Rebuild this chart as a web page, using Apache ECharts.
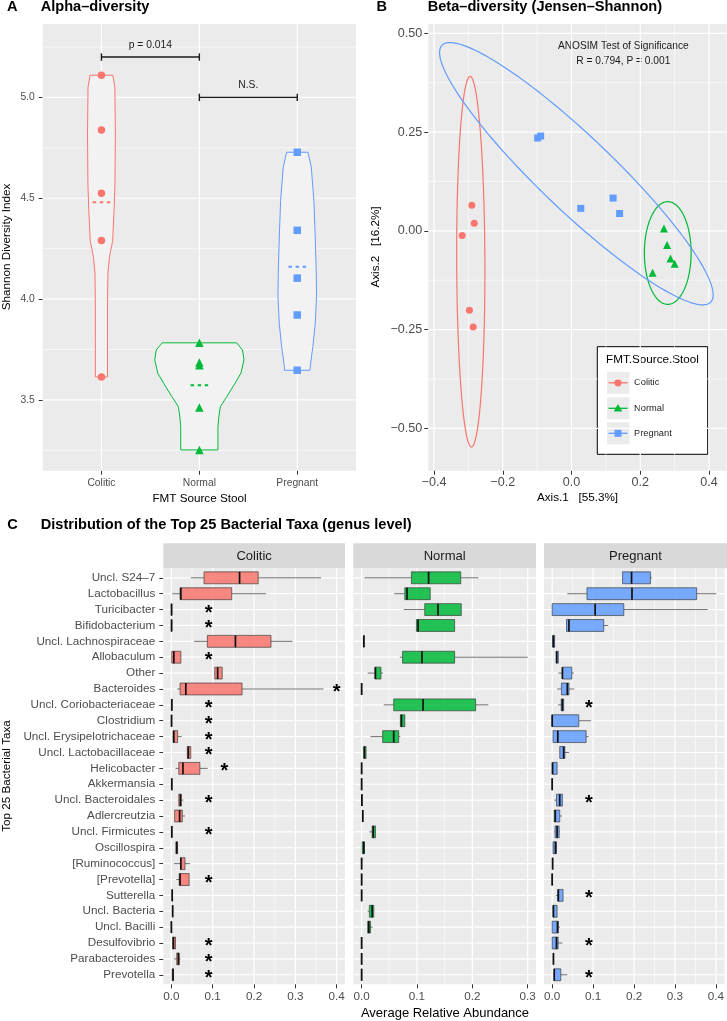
<!DOCTYPE html>
<html><head><meta charset="utf-8">
<script src="https://cdn.jsdelivr.net/npm/echarts@6/dist/echarts.min.js"></script>
<style>html,body{margin:0;padding:0;background:#fff}#c{width:727px;height:1021px}</style>
</head><body><div id="c"></div>
<script>
const FONT = '"Liberation Sans", Arial, Helvetica, sans-serif';
const groups = ['Colitic', 'Normal', 'Pregnant'];
const groupColors = ['#F8766D', '#00BA38', '#619CFF'];
const boxFills = ['rgba(248,118,109,0.85)', 'rgba(0,186,56,0.85)', 'rgba(97,156,255,0.85)'];

// ---------- Panel A: alpha diversity ----------
const alphaColitic = [5.11, 4.839, 4.525, 4.29, 3.614];
const alphaNormal = [3.783, 3.685, 3.672, 3.462, 3.252];
const alphaPregnant = [4.728, 4.341, 4.104, 3.921, 3.647];
const alphaMeans = [4.48, 3.573, 4.16];
// violin outline: [shannon value, half width in category units]
const violinColitic = [[3.614,0.062],[3.8,0.062],[3.96,0.062],[4.13,0.066],[4.21,0.082],[4.29,0.115],[4.33,0.118],[4.45,0.13],[4.57,0.138],[4.82,0.142],[5.05,0.137],[5.11,0.116]];
const violinNormal = [[3.252,0.19],[3.367,0.19],[3.42,0.2],[3.467,0.215],[3.516,0.28],[3.583,0.365],[3.633,0.425],[3.699,0.456],[3.748,0.44],[3.783,0.38]];
const violinPregnant = [[3.647,0.13],[3.682,0.136],[3.765,0.16],[3.881,0.184],[4.013,0.197],[4.129,0.194],[4.298,0.184],[4.489,0.17],[4.655,0.143],[4.728,0.109]];
const alphaYTicks = [3.5, 4.0, 4.5, 5.0];
const alphaYMinor = [3.25, 3.75, 4.25, 4.75, 5.25];
const alphaXTicks = [1, 2, 3];
const sigBrackets = [[1, 2, 5.2], [2, 3, 5.0]];
const sigLabels = ['p = 0.014', 'N.S.'];

// ---------- Panel B: beta diversity ----------
const betaColitic = [[-0.290,0.065],[-0.283,0.019],[-0.318,-0.012],[-0.297,-0.201],[-0.286,-0.243]];
const betaNormal = [[0.269,0.006],[0.278,-0.036],[0.288,-0.07],[0.300,-0.083],[0.236,-0.106]];
const betaPregnant = [[-0.0985,0.235],[-0.0898,0.240],[0.027,0.057],[0.121,0.083],[0.140,0.044]];
const ellipseCenters = [[-0.293,-0.078],[0.280,-0.056],[0.0142,0.1447]];
const ellipseMajor = [[-0.002,0.469],[0.0,0.13],[0.391,-0.325]];
const ellipseMinor = [[0.041,0],[0.068,0],[-0.0744,-0.0677]];
const betaXTicks = [-0.4, -0.2, 0, 0.2, 0.4];
const betaXMinor = [-0.3, -0.1, 0.1, 0.3];
const betaYTicks = [-0.5, -0.25, 0, 0.25, 0.5];
const betaYMinor = [-0.375, -0.125, 0.125, 0.375];

// ---------- Panel C: top taxa ----------
const taxa = ['Uncl. S24\u20137','Lactobacillus','Turicibacter','Bifidobacterium','Uncl. Lachnospiraceae','Allobaculum','Other','Bacteroides','Uncl. Coriobacteriaceae','Clostridium','Uncl. Erysipelotrichaceae','Uncl. Lactobacillaceae','Helicobacter','Akkermansia','Uncl. Bacteroidales','Adlercreutzia','Uncl. Firmicutes','Oscillospira','[Ruminococcus]','[Prevotella]','Sutterella','Uncl. Bacteria','Uncl. Bacilli','Desulfovibrio','Parabacteroides','Prevotella'];
// [lower whisker, Q1, median, Q3, upper whisker]
const boxColitic = [
 [0.047,0.079,0.165,0.21,0.362],[0.002,0.021,0.023,0.146,0.229],[0,0,0.0005,0.001,0.001],[0,0,0.0005,0.001,0.001],
 [0.055,0.087,0.155,0.241,0.293],[0,0.001,0.006,0.023,0.023],[0.104,0.105,0.112,0.123,0.124],[0.014,0.021,0.035,0.171,0.368],
 [0.001,0.001,0.001,0.0012,0.0015],[0,0,0.0005,0.0007,0.001],[0.003,0.004,0.006,0.015,0.025],[0.038,0.0386,0.041,0.047,0.047],
 [0.01,0.018,0.028,0.069,0.088],[0.001,0.001,0.001,0.0012,0.0012],[0.017,0.018,0.022,0.024,0.029],[0.008,0.008,0.02,0.0265,0.033],
 [0.001,0.001,0.001,0.0012,0.0012],[0.011,0.011,0.013,0.015,0.015],[0.006,0.022,0.023,0.033,0.045],[0.012,0.019,0.021,0.043,0.043],
 [0.002,0.002,0.002,0.0025,0.0025],[0.003,0.003,0.003,0.0035,0.0035],[0,0,0,0.0005,0.0005],[0.002,0.003,0.005,0.01,0.01],
 [0.006,0.013,0.017,0.019,0.022],[0.002,0.002,0.004,0.005,0.005]];
const boxNormal = [
 [0.005,0.09,0.121,0.179,0.211],[0.059,0.078,0.082,0.124,0.124],[0.076,0.114,0.138,0.18,0.18],[0.099,0.099,0.102,0.168,0.168],
 [0.004,0.004,0.004,0.0045,0.0045],[0.069,0.074,0.109,0.168,0.3],[0.011,0.024,0.025,0.035,0.0385],[0,0,0,0.0003,0.0003],
 [0.04,0.058,0.111,0.206,0.229],[0.07,0.07,0.072,0.078,0.078],[0.016,0.038,0.058,0.067,0.07],[0.004,0.004,0.005,0.008,0.008],
 [0,0,0,0.0003,0.0003],[0,0,0,0.0003,0.0003],[0.0005,0.0005,0.0005,0.0008,0.0008],[0.002,0.002,0.002,0.0025,0.0025],
 [0.014,0.019,0.021,0.025,0.025],[0.001,0.001,0.004,0.005,0.005],[0,0,0,0.0003,0.0003],[0,0,0,0.0003,0.0003],
 [0,0,0,0.0003,0.0003],[0.011,0.014,0.019,0.022,0.022],[0.011,0.011,0.013,0.016,0.02],[0,0,0,0.0003,0.0003],
 [0,0,0,0.0003,0.0003],[0,0,0,0.0003,0.0003]];
const boxPregnant = [
 [0.172,0.172,0.194,0.24,0.244],[0.037,0.085,0.195,0.353,0.401],[0,0,0.105,0.175,0.38],[0.035,0.035,0.041,0.126,0.137],
 [0.001,0.001,0.003,0.006,0.006],[0.01,0.01,0.011,0.015,0.015],[0.015,0.025,0.025,0.048,0.053],[0.012,0.0226,0.037,0.041,0.054],
 [0.0145,0.022,0.025,0.028,0.028],[0,0,0,0.065,0.095],[0.002,0.002,0.0137,0.083,0.089],[0.0185,0.0185,0.028,0.031,0.041],
 [0,0,0.001,0.012,0.012],[0,0,0,0.0003,0.0003],[0.005,0.0105,0.0185,0.025,0.025],[0.005,0.005,0.0075,0.0185,0.024],
 [0.005,0.007,0.012,0.017,0.019],[0.002,0.002,0.008,0.0105,0.012],[0.001,0.001,0.001,0.0012,0.0012],[0,0,0,0.0003,0.0003],
 [0.009,0.0137,0.015,0.0266,0.0266],[0.002,0.002,0.003,0.012,0.012],[0,0,0.013,0.015,0.019],[0,0,0.0105,0.0145,0.025],
 [0.003,0.003,0.003,0.0035,0.0035],[0.005,0.005,0.005,0.021,0.037]];
// significance stars: [row (1-based), x position]
const starsColitic = [[3,0.09],[4,0.09],[6,0.09],[8,0.4],[9,0.09],[10,0.09],[11,0.09],[12,0.09],[13,0.128],[15,0.09],[17,0.09],[20,0.09],[24,0.09],[25,0.09],[26,0.09]];
const starsPregnant = [[9,0.09],[15,0.09],[21,0.09],[24,0.09],[26,0.09]];
const cXTicks = [[0,0.1,0.2,0.3,0.4],[0,0.1,0.2,0.3],[0,0.1,0.2,0.3,0.4]];
const cXMinor = [[0.05,0.15,0.25,0.35],[0.05,0.15,0.25],[0.05,0.15,0.25,0.35]];
const cRows = taxa.map((t, i) => i + 1);

// ---------- layout ----------
const G = [
  {left:42.7, top:24, width:313.3, height:446.7, x:[0.4,3.6], y:[3.149,5.364]},
  {left:428.3, top:24, width:298.4, height:446.7, x:[-0.4166,0.4515], y:[-0.607,0.5236]},
  {left:163.3, top:568.3, width:181.7, height:416, x:[-0.0195,0.42], y:[0.4,26.6]},
  {left:353.3, top:568.3, width:182.7, height:416, x:[-0.015,0.315], y:[0.4,26.6]},
  {left:544, top:568.3, width:182.5, height:416, x:[-0.02,0.421], y:[0.4,26.6]}
];

function segsX(vals, g) { return vals.map(v => [v, G[g].y[0], v, G[g].y[1]]); }
function segsY(vals, g) { return vals.map(v => [G[g].x[0], v, G[g].x[1], v]); }
function lineSeries(g, data, color, width, z) {
  return {type:'custom', xAxisIndex:g, yAxisIndex:g, z:z, silent:true, data:data, clip:true,
    renderItem:(p, api) => {
      const a = api.coord([api.value(0), api.value(1)]);
      const b = api.coord([api.value(2), api.value(3)]);
      return {type:'line', shape:{x1:a[0], y1:a[1], x2:b[0], y2:b[1]}, style:{stroke:color, lineWidth:width}};
    }};
}
function gridLines(g, xMaj, xMin, yMaj, yMin) {
  return [
    lineSeries(g, segsX(xMin, g).concat(segsY(yMin, g)), '#FFFFFF', 0.6, 1),
    lineSeries(g, segsX(xMaj, g).concat(segsY(yMaj, g)), '#FFFFFF', 1.2, 1)
  ];
}

function xAxisDef(g, ticks, fmt, size, margin, showLabels) {
  return {type:'value', gridIndex:g, min:G[g].x[0], max:G[g].x[1], splitLine:{show:false},
    axisLine:{show:false, onZero:false},
    axisTick:{show:true, customValues:ticks, length:4, lineStyle:{color:'#333333', width:1}},
    axisLabel:{show:showLabels !== false, customValues:ticks, formatter:fmt, fontSize:size, color:'#4D4D4D', margin:margin, fontFamily:FONT}};
}
function yAxisDef(g, ticks, fmt, size, margin, inverse, showTicks) {
  return {type:'value', gridIndex:g, min:G[g].y[0], max:G[g].y[1], inverse:!!inverse, splitLine:{show:false},
    axisLine:{show:false, onZero:false},
    axisTick:{show:showTicks !== false, customValues:ticks, length:4, lineStyle:{color:'#333333', width:1}},
    axisLabel:{show:showTicks !== false, customValues:ticks, formatter:fmt, fontSize:size, color:'#4D4D4D', margin:margin, fontFamily:FONT}};
}
const minusFmt = d => v => (v < -1e-9 ? '\u2212' : '') + Math.abs(v).toFixed(d);

const violins = [violinColitic, violinNormal, violinPregnant];
const alphaSets = [alphaColitic, alphaNormal, alphaPregnant];
const alphaSymbols = ['circle', 'triangle', 'rect'];
const alphaSizes = [7.5, 8.5, 7.5];

const series = [];
// Panel A
series.push(...gridLines(0, alphaXTicks, [], alphaYTicks, alphaYMinor));
series.push({type:'custom', xAxisIndex:0, yAxisIndex:0, z:2, silent:true, data:[[1,4],[2,3.5],[3,4]],
  renderItem:(p, api) => {
    const i = p.dataIndex, prof = violins[i], cx = i + 1;
    const pts = [];
    prof.forEach(r => pts.push(api.coord([cx + r[1], r[0]])));
    for (let k = prof.length - 1; k >= 0; k--) pts.push(api.coord([cx - prof[k][1], prof[k][0]]));
    return {type:'polygon', shape:{points:pts}, style:{fill:'#F2F2F2', stroke:groupColors[i], lineWidth:1}};
  }});
alphaSets.forEach((arr, i) => {
  series.push({type:'scatter', xAxisIndex:0, yAxisIndex:0, z:4, silent:true, symbol:alphaSymbols[i], symbolSize:alphaSizes[i],
    itemStyle:{color:groupColors[i], opacity:1}, data:arr.map(v => [i + 1, v])});
});
series.push({type:'custom', xAxisIndex:0, yAxisIndex:0, z:3, silent:true, data:alphaMeans.map((m, i) => [i + 1, m]),
  renderItem:(p, api) => {
    const a = api.coord([api.value(0) - 0.09, api.value(1)]);
    const b = api.coord([api.value(0) + 0.09, api.value(1)]);
    return {type:'line', shape:{x1:a[0], y1:a[1], x2:b[0], y2:b[1]},
      style:{stroke:groupColors[p.dataIndex], lineWidth:2, lineDash:[3.5, 3.6]}};
  }});
series.push({type:'custom', xAxisIndex:0, yAxisIndex:0, z:5, silent:true, data:sigBrackets,
  renderItem:(p, api) => {
    const a = api.coord([api.value(0), api.value(2)]);
    const b = api.coord([api.value(1), api.value(2)]);
    const st = {stroke:'#1A1A1A', lineWidth:1.4};
    return {type:'group', children:[
      {type:'line', shape:{x1:a[0], y1:a[1], x2:b[0], y2:b[1]}, style:st},
      {type:'line', shape:{x1:a[0], y1:a[1] - 3.7, x2:a[0], y2:a[1] + 3.7}, style:st},
      {type:'line', shape:{x1:b[0], y1:b[1] - 3.7, x2:b[0], y2:b[1] + 3.7}, style:st},
      {type:'text', style:{text:sigLabels[p.dataIndex], x:(a[0] + b[0]) / 2, y:a[1] - 12, align:'center', verticalAlign:'middle',
        fontSize:10.3, fontFamily:FONT, fill:'#222'}}
    ]};
  }});

// Panel B
series.push(...gridLines(1, betaXTicks, betaXMinor, betaYTicks, betaYMinor));
series.push({type:'custom', xAxisIndex:1, yAxisIndex:1, z:3, silent:true, data:ellipseCenters,
  renderItem:(p, api) => {
    const i = p.dataIndex, c = ellipseCenters[i], a = ellipseMajor[i], b = ellipseMinor[i];
    const pts = [];
    for (let k = 0; k <= 160; k++) {
      const t = 2 * Math.PI * k / 160;
      pts.push(api.coord([c[0] + a[0] * Math.cos(t) + b[0] * Math.sin(t), c[1] + a[1] * Math.cos(t) + b[1] * Math.sin(t)]));
    }
    return {type:'polyline', shape:{points:pts}, style:{stroke:groupColors[i], lineWidth:1.2, fill:null}};
  }});
[betaColitic, betaNormal, betaPregnant].forEach((arr, i) => {
  series.push({type:'scatter', xAxisIndex:1, yAxisIndex:1, z:4, silent:true, symbol:alphaSymbols[i], symbolSize:[7, 8, 7][i],
    itemStyle:{color:groupColors[i], opacity:1}, data:arr});
});

// Panel C
const boxSets = [boxColitic, boxNormal, boxPregnant];
boxSets.forEach((stats, f) => {
  const g = 2 + f;
  series.push(...gridLines(g, cXTicks[f], cXMinor[f], cRows, []));
  series.push({type:'custom', xAxisIndex:g, yAxisIndex:g, z:3, silent:true, clip:true,
    data:stats.map((s, i) => [s[2], i + 1, s[0], s[1], s[3], s[4]]),
    renderItem:(p, api) => {
      const row = api.value(1);
      const med = api.value(0), wl = api.value(2), q1 = api.value(3), q3 = api.value(4), wh = api.value(5);
      const y = api.coord([0, row])[1];
      const h = Math.abs(api.size([0, 1])[1]) * 0.75;
      const X = [wl, q1, med, q3, wh].map(t => api.coord([t, row])[0]);
      const ws = {stroke:'#4D4D4D', lineWidth:0.8};
      return {type:'group', children:[
        {type:'line', shape:{x1:X[0], y1:y, x2:X[1], y2:y}, style:ws},
        {type:'line', shape:{x1:X[3], y1:y, x2:X[4], y2:y}, style:ws},
        {type:'rect', shape:{x:X[1], y:y - h / 2, width:Math.max(X[3] - X[1], 0), height:h},
          style:{fill:boxFills[f], stroke:'rgba(40,40,40,0.75)', lineWidth:0.8}},
        {type:'line', shape:{x1:X[2], y1:y - h / 2, x2:X[2], y2:y + h / 2}, style:{stroke:'#111', lineWidth:1.7}}
      ]};
    }});
});
[[0, starsColitic], [2, starsPregnant]].forEach(([f, st]) => {
  const g = 2 + f;
  series.push({type:'custom', xAxisIndex:g, yAxisIndex:g, z:5, silent:true, data:st.map(s => [s[1], s[0]]),
    renderItem:(p, api) => {
      const c = api.coord([api.value(0), api.value(1)]);
      return {type:'text', style:{text:'*', x:c[0], y:c[1] + 3.5, align:'center', verticalAlign:'middle',
        fontSize:20, fontWeight:'bold', fontFamily:FONT, fill:'#000'}};
    }});
});

const xAxes = [
  xAxisDef(0, alphaXTicks, v => groups[Math.round(v) - 1], 10.3, 7),
  xAxisDef(1, betaXTicks, minusFmt(1), 12.6, 5),
  xAxisDef(2, cXTicks[0], v => v.toFixed(1), 11.7, 6),
  xAxisDef(3, cXTicks[1], v => v.toFixed(1), 11.7, 6),
  xAxisDef(4, cXTicks[2], v => v.toFixed(1), 11.7, 6)
];
const yAxes = [
  yAxisDef(0, alphaYTicks, v => v.toFixed(1), 10.3, 8),
  yAxisDef(1, betaYTicks, minusFmt(2), 12.6, 6),
  yAxisDef(2, cRows, v => taxa[Math.round(v) - 1], 11.7, 8, true),
  yAxisDef(3, cRows, v => '', 11.7, 8, true, false),
  yAxisDef(4, cRows, v => '', 11.7, 8, true, false)
];

// ---------- text & decorations ----------
const T = (text, x, y, size, opts) => Object.assign({type:'text', x:x, y:y, silent:true,
  style:Object.assign({text:text, fontSize:size, fontFamily:FONT, fill:'#000', align:'left', verticalAlign:'middle'}, (opts && opts.style) || {})},
  opts && opts.rot ? {rotation:Math.PI / 2} : {});
const bold = {style:{fontWeight:'bold'}};
const graphics = [
  T('A', 7, 7, 14.6, bold), T('Alpha\u2013diversity', 40.7, 7, 14.6, bold),
  T('B', 376.5, 7, 14.6, bold), T('Beta\u2013diversity (Jensen\u2013Shannon)', 427.7, 7, 14.6, bold),
  T('C', 7.3, 525, 14.6, bold), T('Distribution of the Top 25 Bacterial Taxa (genus level)', 40.7, 525, 14.6, bold),
  T('Shannon Diversity Index', 6.5, 247, 11.7, {rot:true, style:{align:'center'}}),
  T('FMT Source Stool', 199.5, 498.5, 11.7, {style:{align:'center'}}),
  T('Axis.2   [16.2%]', 376, 247, 11.7, {rot:true, style:{align:'center'}}),
  T('Axis.1   [55.3%]', 577.5, 498, 11.7, {style:{align:'center'}}),
  T('Top 25 Bacterial Taxa', 6.5, 776, 11.7, {rot:true, style:{align:'center'}}),
  T('Average Relative Abundance', 445, 1013, 13, {style:{align:'center'}}),
  T('ANOSIM Test of Significance', 623.3, 46, 10.2, {style:{align:'center', fill:'#1A1A1A'}}),
  T('R = 0.794, P = 0.001', 623.3, 61, 10.2, {style:{align:'center', fill:'#1A1A1A'}})
];
// facet strips
[[163.3, 345], [353.3, 536], [544, 727]].forEach((s, i) => {
  graphics.push({type:'rect', silent:true, shape:{x:s[0], y:543.3, width:s[1] - s[0], height:25}, style:{fill:'#D9D9D9'}});
  graphics.push(T(groups[i], (s[0] + s[1]) / 2, 556, 13, {style:{align:'center', fill:'#1A1A1A'}}));
});
// legend for panel B
graphics.push({type:'rect', silent:true, shape:{x:597.3, y:346.7, width:110.4, height:107.6}, style:{fill:'#FFFFFF', stroke:'#000', lineWidth:1}});
graphics.push(T('FMT.Source.Stool', 606, 359.5, 11.7));
[382.8, 408.3, 433.3].forEach((cy, i) => {
  graphics.push({type:'rect', silent:true, shape:{x:607, y:cy - 11, width:22.5, height:22}, style:{fill:'#EBEBEB'}});
  graphics.push({type:'line', silent:true, shape:{x1:608.5, y1:cy, x2:627.5, y2:cy}, style:{stroke:groupColors[i], lineWidth:1.3}});
  let m;
  if (i === 0) m = {type:'circle', shape:{cx:618, cy:cy, r:3.6}};
  else if (i === 1) m = {type:'polygon', shape:{points:[[618, cy - 4.3], [622.3, cy + 3.2], [613.7, cy + 3.2]]}};
  else m = {type:'rect', shape:{x:614.5, y:cy - 3.5, width:7, height:7}};
  m.silent = true; m.style = {fill:groupColors[i]};
  graphics.push(m);
  graphics.push(T(groups[i], 634, cy, 9.3, {style:{fill:'#1A1A1A'}}));
});

const chart = echarts.init(document.getElementById('c'), null, {renderer:'canvas'});
chart.setOption({
  backgroundColor:'#FFFFFF',
  animation:false,
  textStyle:{fontFamily:FONT},
  grid:G.map(g => ({left:g.left, top:g.top, width:g.width, height:g.height, show:true, backgroundColor:'#EBEBEB', borderWidth:0})),
  xAxis:xAxes,
  yAxis:yAxes,
  series:series,
  graphic:graphics
});
</script></body></html>
